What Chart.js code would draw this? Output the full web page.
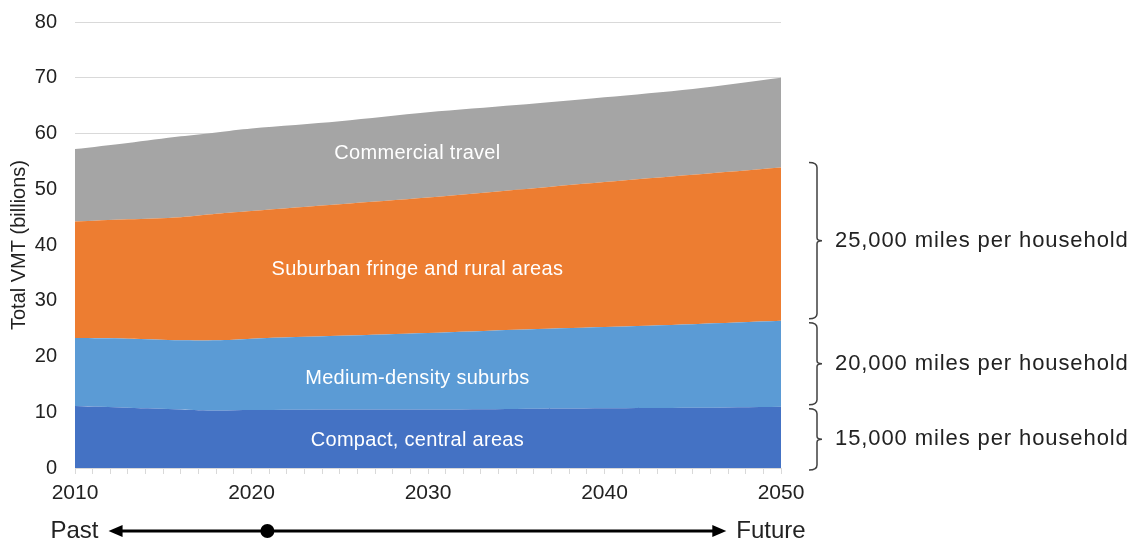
<!DOCTYPE html>
<html>
<head>
<meta charset="utf-8">
<script src="https://cdn.jsdelivr.net/npm/chart.js@4.4.1/dist/chart.umd.min.js"></script>
<style>
  html, body { margin: 0; padding: 0; background: #fff; }
  #wrap { width: 1131px; height: 542px; position: relative; }
</style>
</head>
<body>
<div id="wrap"><canvas id="vmtChart" width="1131" height="542"></canvas></div>
<script>
// Years sampled along the projection
const years = [2010, 2013, 2016, 2018, 2020, 2025, 2030, 2035, 2040, 2045, 2050];

// VMT by area type (billions), stacked bottom to top
const compact    = [11.1, 10.8, 10.5, 10.3, 10.4, 10.5, 10.5, 10.6, 10.7, 10.8, 11.0];
const medium     = [12.2, 12.4, 12.4, 12.6, 12.8, 13.2, 13.7, 14.2, 14.6, 15.0, 15.4];
const suburban   = [20.9, 21.4, 22.1, 22.7, 22.9, 23.6, 24.3, 25.1, 26.0, 26.8, 27.5];
const commercial = [13.0, 13.7, 14.5, 14.6, 14.8, 14.9, 15.3, 15.2, 15.2, 15.4, 16.1];

const seriesNames = ['Compact, central areas', 'Medium-density suburbs', 'Suburban fringe and rural areas', 'Commercial travel'];
const seriesColors = ['#4472c4', '#5b9bd5', '#ed7d31', '#a5a5a5'];

// in-area labels, placed in data units
const labelYear = 2029.4;
const labelValues = [4.9, 16.0, 35.6, 56.4];

const yTicks = [0, 10, 20, 30, 40, 50, 60, 70, 80];
const braceLabels = ['15,000 miles per household', '20,000 miles per household', '25,000 miles per household'];

const FONT = "'Liberation Sans', Arial, sans-serif";

function toPoints(arr) {
    return arr.map((v, i) => ({ x: years[i], y: v }));
}

const allSeries = [compact, medium, suburban, commercial];

// Annotations: area labels, braces, past/future timeline
const annotations = {
    id: 'annotations',
    afterDatasetsDraw(chart) {
        const ctx = chart.ctx;
        const xs = chart.scales.x;
        const ys = chart.scales.y;

        ctx.save();
        ctx.fillStyle = '#ffffff';
        ctx.font = '20px ' + FONT;
        ctx.textAlign = 'center';
        ctx.textBaseline = 'middle';
        ctx.letterSpacing = '0.3px';
        seriesNames.forEach((name, i) => {
            ctx.fillText(name, xs.getPixelForValue(labelYear), ys.getPixelForValue(labelValues[i]));
        });
        ctx.letterSpacing = '0px';

        // braces at the 2050 end
        const last = years.length - 1;
        let cum = 0;
        const bounds = [0];
        for (let i = 0; i < 3; i++) {
            cum += allSeries[i][last];
            bounds.push(cum);
        }
        const bx = 817;
        ctx.strokeStyle = '#404040';
        ctx.lineWidth = 1.5;
        for (let i = 0; i < 3; i++) {
            const yb = ys.getPixelForValue(bounds[i]) + (i === 0 ? 2 : -2);
            const yt = ys.getPixelForValue(bounds[i + 1]) - (i === 2 ? 5 : -2);
            const ym = (yb + yt) / 2;
            ctx.beginPath();
            ctx.moveTo(bx - 8, yt);
            ctx.quadraticCurveTo(bx, yt, bx, yt + 5);
            ctx.lineTo(bx, ym - 3);
            ctx.quadraticCurveTo(bx, ym, bx + 5, ym);
            ctx.quadraticCurveTo(bx, ym, bx, ym + 3);
            ctx.lineTo(bx, yb - 5);
            ctx.quadraticCurveTo(bx, yb, bx - 8, yb);
            ctx.stroke();

            ctx.fillStyle = '#222';
            ctx.font = '22px ' + FONT;
            ctx.textAlign = 'left';
            ctx.letterSpacing = '0.9px';
            ctx.fillText(braceLabels[i], bx + 18, ym);
            ctx.letterSpacing = '0px';
        }

        // past / future timeline
        const ty = 531;
        const x0 = xs.getPixelForValue(2011.9);
        const x1 = xs.getPixelForValue(2046.9);
        const dot = xs.getPixelForValue(2020.9);
        ctx.strokeStyle = '#000';
        ctx.fillStyle = '#000';
        ctx.lineWidth = 3;
        ctx.beginPath();
        ctx.moveTo(x0 + 10, ty);
        ctx.lineTo(x1 - 10, ty);
        ctx.stroke();
        ctx.beginPath();
        ctx.moveTo(x0, ty);
        ctx.lineTo(x0 + 14, ty - 6);
        ctx.lineTo(x0 + 14, ty + 6);
        ctx.closePath();
        ctx.fill();
        ctx.beginPath();
        ctx.moveTo(x1, ty);
        ctx.lineTo(x1 - 14, ty - 6);
        ctx.lineTo(x1 - 14, ty + 6);
        ctx.closePath();
        ctx.fill();
        ctx.beginPath();
        ctx.arc(dot, ty, 7, 0, Math.PI * 2);
        ctx.fill();

        ctx.fillStyle = '#222';
        ctx.font = '24px ' + FONT;
        ctx.textAlign = 'right';
        ctx.fillText('Past', x0 - 10, ty);
        ctx.textAlign = 'left';
        ctx.fillText('Future', x1 + 10, ty);
        ctx.restore();
    }
};

const ctx = document.getElementById('vmtChart').getContext('2d');
const vmtChart = new Chart(ctx, {
    type: 'line',
    data: {
        datasets: allSeries.map((arr, i) => ({
            label: seriesNames[i],
            data: toPoints(arr),
            backgroundColor: seriesColors[i],
            borderColor: seriesColors[i],
            borderWidth: 0,
            pointRadius: 0,
            fill: i === 0 ? 'origin' : '-1',
            tension: 0.3
        }))
    },
    options: {
        responsive: false,
        animation: false,
        layout: { padding: { left: 7, top: 22, right: 350, bottom: 34 } },
        plugins: {
            legend: { display: false },
            tooltip: { enabled: false }
        },
        scales: {
            x: {
                type: 'linear',
                min: 2010,
                max: 2050,
                afterFit(scale) { scale.height = 40; },
                grid: {
                    drawOnChartArea: false,
                    drawTicks: true,
                    tickLength: 6,
                    color: '#d9d9d9'
                },
                border: { color: '#d9d9d9' },
                ticks: {
                    stepSize: 1,
                    autoSkip: false,
                    maxRotation: 0,
                    padding: 7,
                    color: '#222',
                    font: { family: FONT, size: 21 },
                    callback: v => (v % 10 === 0 ? String(v) : '')
                }
            },
            y: {
                stacked: true,
                min: 0,
                max: 80,
                afterFit(scale) {
                    scale.width = 68;
                    scale.paddingTop = 0;
                    scale.paddingBottom = 0;
                },
                afterBuildTicks(scale) { scale.ticks = yTicks.map(v => ({ value: v })); },
                grid: {
                    color: '#d9d9d9',
                    drawTicks: false
                },
                border: { display: false },
                ticks: {
                    padding: 18,
                    color: '#222',
                    font: { family: FONT, size: 20 }
                },
                title: {
                    display: true,
                    text: 'Total VMT (billions)',
                    color: '#222',
                    font: { family: FONT, size: 20 },
                    padding: { top: 0, bottom: 2 }
                }
            }
        }
    },
    plugins: [annotations]
});
</script>
</body>
</html>
